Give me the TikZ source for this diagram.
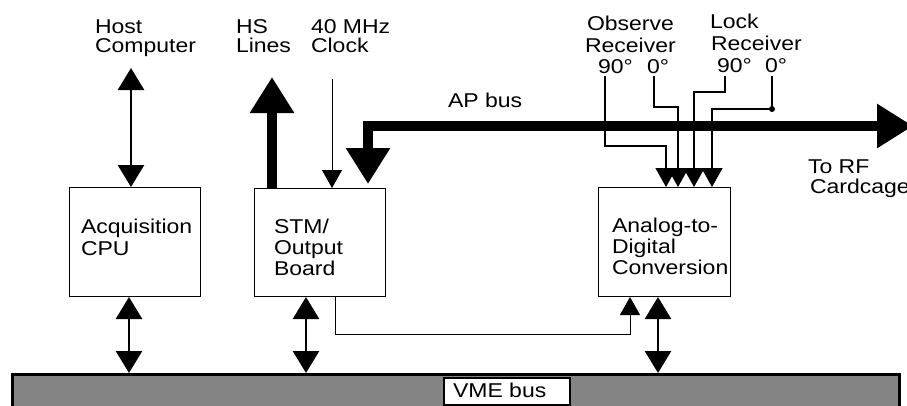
\documentclass[tikz,border=0pt]{standalone}
\usepackage{fontspec}
\setmainfont{Liberation Sans}[FakeStretch=1.15]
\usetikzlibrary{arrows.meta,calc}
\definecolor{vmegray}{HTML}{848484}
\begin{document}
\begin{tikzpicture}[x=1pt,y=-1pt,
  lbl/.style={inner sep=0pt, outer sep=0pt, anchor=base west, font=\fontsize{20}{22}\selectfont},
  box/.style={draw, line width=1pt, inner sep=0pt, anchor=north west},
  dbl/.style={line width=2.6pt, {Triangle[width=26pt,length=22pt]}-{Triangle[width=26pt,length=22pt]}},
  thinarr/.style={line width=1pt, -{Triangle[width=20pt,length=18pt]}},
  fat/.style={line width=10pt, -{Triangle[width=42pt,length=36pt]}},
  feed/.style={line width=1.2pt, -{Triangle[width=21pt,length=19pt]}},
]
\useasboundingbox (0,0) rectangle (907,405);

% VME bus bar
\node[draw, line width=2.5pt, fill=vmegray, inner sep=0pt, anchor=north west,
      minimum width=887pt, minimum height=60pt] (vme) at (11,373) {};
\node[draw, line width=1.5pt, fill=white, inner sep=0pt, anchor=north west,
      minimum width=126pt, minimum height=27pt] (vmelbl) at (443,377) {};
\node[lbl] (vmetxt) at (453,397) {VME bus};

% boxes
\node[box, minimum width=131pt, minimum height=109pt] (cpu) at (69,187) {};
\node[box, minimum width=131pt, minimum height=108pt] (stm) at (254,188) {};
\node[box, minimum width=132pt, minimum height=109pt] (adc) at (598,187) {};

% box texts
\node[lbl] (cpu1) at (81,233) {Acquisition};
\node[lbl] (cpu2) at (81,255) {CPU};
\node[lbl] (stm1) at (274,233) {STM/};
\node[lbl] (stm2) at (274,254) {Output};
\node[lbl] (stm3) at (274,275) {Board};
\node[lbl] (adc1) at (612,232) {Analog-to-};
\node[lbl] (adc2) at (612,253) {Digital};
\node[lbl] (adc3) at (612,274) {Conversion};

% top labels
\node[lbl] (host1) at (95,33) {Host};
\node[lbl] (host2) at (95,52) {Computer};
\node[lbl] (hs1) at (236,33) {HS};
\node[lbl] (hs2) at (236,52) {Lines};
\node[lbl] (clk1) at (311,33) {40 MHz};
\node[lbl] (clk2) at (311,52) {Clock};
\node[lbl] (ap) at (448,107) {AP bus};
\node[lbl] (obs1) at (587,30) {Observe};
\node[lbl] (obs2) at (585,52) {Receiver};
\node[lbl] (obs3) at (598,73) {90°};
\node[lbl] (obs4) at (647,73) {0°};
\node[lbl] (lock1) at (710,28) {Lock};
\node[lbl] (lock2) at (711,50) {Receiver};
\node[lbl] (lock3) at (717,72) {90°};
\node[lbl] (lock4) at (765,72) {0°};
\node[lbl] (rf1) at (808,173) {To RF};
\node[lbl] (rf2) at (810,193) {Cardcage};

% host <-> cpu
\coordinate (hostc) at (131,68);
\draw[dbl] (hostc) -- (hostc |- cpu.north);
% bus connections
\coordinate (cpuv) at (129,300);
\draw[dbl] (cpuv |- cpu.south) -- (cpuv |- vme.north);
\coordinate (stmv) at (306,300);
\draw[dbl] (stmv |- stm.south) -- (stmv |- vme.north);
\coordinate (adcv) at (658,300);
\draw[dbl] (adcv |- adc.south) -- (adcv |- vme.north);

% HS lines
\coordinate (hs) at (272,77);
\draw[fat] (hs |- stm.north) -- (hs);
% clock
\coordinate (clk) at (332,79);
\draw[thinarr] (clk) -- (clk |- stm.north);
% AP bus
\coordinate (aptip) at (368,184);
\coordinate (apc) at (368,126);
\coordinate (rf) at (913,126);
\draw[line width=10pt, {Triangle[width=42pt,length=36pt]}-{Triangle[width=42pt,length=36pt]}]
  (aptip) -- (apc) -- (rf);

% STM -> ADC
\coordinate (s2a) at (335,334);
\coordinate (s2b) at (630,334);
\draw[thinarr] (s2a |- stm.south) -- (s2a) -- (s2b) -- (s2b |- adc.south);

% receiver feeds
\coordinate (o90) at (605,76);
\coordinate (o90b) at (605,146);
\coordinate (f1) at (666,146);
\coordinate (o0) at (654,76);
\coordinate (o0b) at (654,107);
\coordinate (f2) at (678,107);
\coordinate (l90) at (725,76);
\coordinate (l90b) at (725,92);
\coordinate (f3) at (694,92);
\coordinate (l0) at (772,76);
\coordinate (ldot) at (772,109);
\coordinate (f4) at (712,109);
\draw[feed] (o90) -- (o90b) -- (f1) -- (f1 |- adc.north);
\draw[feed] (o0) -- (o0b) -- (f2) -- (f2 |- adc.north);
\draw[feed] (l90) -- (l90b) -- (f3) -- (f3 |- adc.north);
\draw[feed] (l0) -- (ldot) -- (f4) -- (f4 |- adc.north);
\fill (ldot) circle (3pt);
\end{tikzpicture}
\end{document}
